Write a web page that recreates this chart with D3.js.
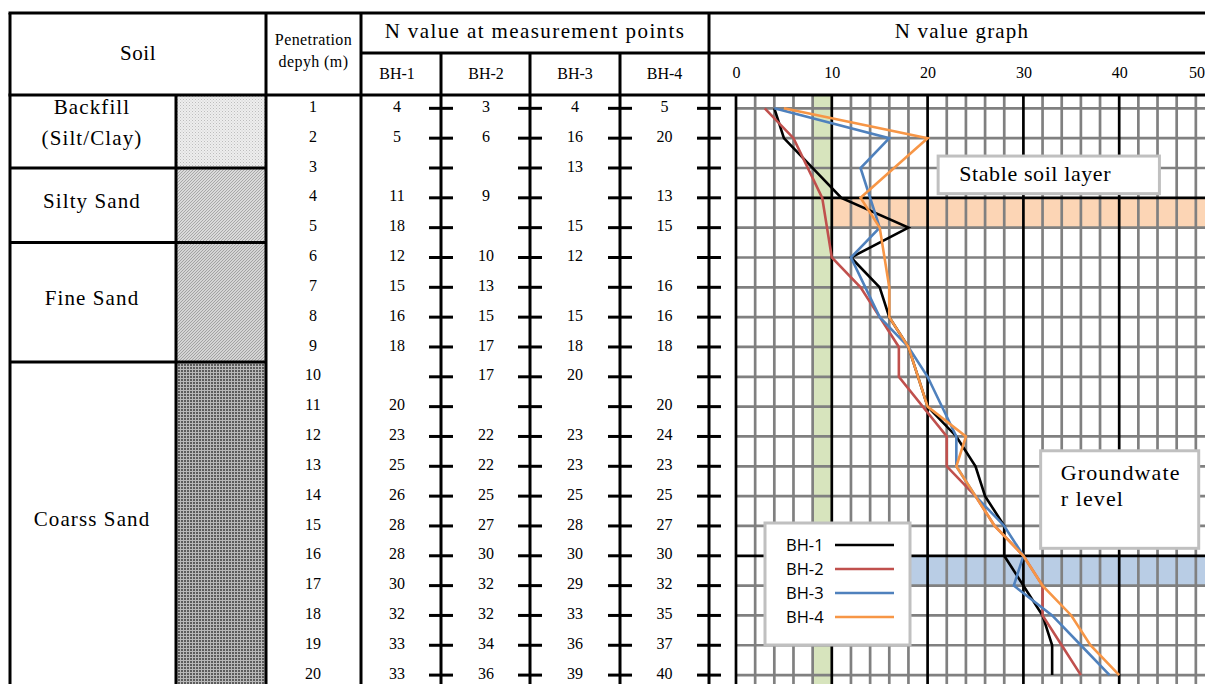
<!DOCTYPE html>
<html>
<head>
<meta charset="utf-8">
<script src="https://cdn.jsdelivr.net/npm/d3@7/dist/d3.min.js"></script>
<style>
  html, body { margin: 0; padding: 0; background: #fff; }
  svg { display: block; }
</style>
</head>
<body>
<svg id="chart" width="1205" height="684"></svg>
<script>
// ---- data ----------------------------------------------------------
const depths = [1, 2, 3, 4, 5, 6, 7, 8, 9, 10, 11, 12, 13, 14, 15, 16, 17, 18, 19, 20];
const boreholes = ["BH-1", "BH-2", "BH-3", "BH-4"];
const bh1 = [4, 5, null, 11, 18, 12, 15, 16, 18, null, 20, 23, 25, 26, 28, 28, 30, 32, 33, 33];
const bh2 = [3, 6, null, 9, null, 10, 13, 15, 17, 17, null, 22, 22, 25, 27, 30, 32, 32, 34, 36];
const bh3 = [4, 16, 13, null, 15, 12, null, 15, 18, 20, null, 23, 23, 25, 28, 30, 29, 33, 36, 39];
const bh4 = [5, 20, null, 13, 15, null, 16, 16, 18, null, 20, 24, 23, 25, 27, 30, 32, 35, 37, 40];
const seriesValues = [bh1, bh2, bh3, bh4];
const seriesColors = ["#000000", "#c0504d", "#4f81bd", "#f79646"];

const soilNames = [["Backfill", "(Silt/Clay)"], ["Silty Sand"], ["Fine Sand"], ["Coarss Sand"]];
const soilTop = [0, 3, 5.5, 9.5];
const soilBottom = [3, 5.5, 9.5, 20.5];
const soilPatterns = ["pat-backfill", "pat-silty", "pat-fine", "pat-coarse"];

const nTicks = [0, 10, 20, 30, 40, 50];
const stableBandN = [10, 50];
const stableBandDepth = [4, 5];
const waterBandN = [5, 50];
const waterBandDepth = [16, 17];
const criticalN = [8, 10];

// ---- layout --------------------------------------------------------
const W = 1205, H = 684;
const tableTop = 13, headMid = 53, headBottom = 95;
const soilLeft = 10, soilDiv = 176, penLeft = 266, bhLeft = 361, graphLeft = 709;
const bhDividers = [441, 530, 620, 709];
const bhCenters = [397, 486, 575, 664.5];
const depthCenter = 313;
const serif = "'Liberation Serif', 'Times New Roman', serif";
const sans = "'Open Sans', 'Noto Sans', sans-serif";

const svg = d3.select("#chart");

const y = d3.scaleLinear().domain([0, 20]).range([78.5, 675.1]);
const x = d3.scaleLinear().domain([0, 50]).range([736, 1215]);

// ---- patterns for soil swatches -------------------------------------
const defs = svg.append("defs");
{
  const p = defs.append("pattern").attr("id", "pat-backfill")
    .attr("patternUnits", "userSpaceOnUse").attr("width", 3).attr("height", 3);
  p.append("rect").attr("width", 3).attr("height", 3).attr("fill", "#eeeeee");
  p.append("rect").attr("width", 1).attr("height", 1).attr("fill", "#bdbdbd");
  p.append("rect").attr("x", 1.5).attr("y", 1.5).attr("width", 1).attr("height", 1).attr("fill", "#cccccc");
}
function diagPattern(id, bg, fg) {
  const p = defs.append("pattern").attr("id", id)
    .attr("patternUnits", "userSpaceOnUse").attr("width", 3).attr("height", 3);
  p.append("rect").attr("width", 3).attr("height", 3).attr("fill", bg);
  p.append("path").attr("d", "M0,3 L3,0 M-1,1 L1,-1 M2,4 L4,2")
    .attr("stroke", fg).attr("stroke-width", 0.9);
}
diagPattern("pat-silty", "#dadada", "#a3a3a3");
diagPattern("pat-fine", "#d4d4d4", "#9c9c9c");
{
  const p = defs.append("pattern").attr("id", "pat-coarse")
    .attr("patternUnits", "userSpaceOnUse").attr("width", 3).attr("height", 3);
  p.append("rect").attr("width", 3).attr("height", 3).attr("fill", "#5c5c5c");
  p.append("rect").attr("x", 0).attr("y", 0).attr("width", 3).attr("height", 1).attr("fill", "#b8b8b8");
  p.append("rect").attr("x", 0).attr("y", 0).attr("width", 1).attr("height", 3).attr("fill", "#b8b8b8");
}

svg.append("rect").attr("width", W).attr("height", H).attr("fill", "#fff");

// ---- soil swatches --------------------------------------------------
svg.append("g").selectAll("rect")
  .data(soilNames.map((n, i) => ({ top: soilTop[i], bottom: soilBottom[i], pat: soilPatterns[i] })))
  .join("rect")
  .attr("x", soilDiv)
  .attr("width", penLeft - soilDiv)
  .attr("y", d => Math.max(headBottom, y(d.top)))
  .attr("height", d => y(d.bottom) - Math.max(headBottom, y(d.top)))
  .attr("fill", d => `url(#${d.pat})`);

// ---- graph bands ----------------------------------------------------
const plot = svg.append("g");
plot.append("rect")
  .attr("x", x(criticalN[0])).attr("width", x(criticalN[1]) - x(criticalN[0]))
  .attr("y", headBottom).attr("height", H - headBottom)
  .attr("fill", "#d7e4bd");
plot.append("rect")
  .attr("x", x(stableBandN[0])).attr("width", x(stableBandN[1]) - x(stableBandN[0]))
  .attr("y", y(stableBandDepth[0])).attr("height", y(stableBandDepth[1]) - y(stableBandDepth[0]))
  .attr("fill", "#fcd5b5");
plot.append("rect")
  .attr("x", x(waterBandN[0])).attr("width", x(waterBandN[1]) - x(waterBandN[0]))
  .attr("y", y(waterBandDepth[0])).attr("height", y(waterBandDepth[1]) - y(waterBandDepth[0]))
  .attr("fill", "#b9cde5");

// ---- grid -----------------------------------------------------------
const minorN = x.ticks(25).filter(v => v % 10 !== 0);
plot.append("g").selectAll("line").data(minorN).join("line")
  .attr("x1", d => x(d)).attr("x2", d => x(d))
  .attr("y1", headBottom).attr("y2", H)
  .attr("stroke", "#808080").attr("stroke-width", 2.7);
plot.append("g").selectAll("line").data(depths.filter(d => d !== 4 && d !== 16)).join("line")
  .attr("x1", x(0)).attr("x2", W)
  .attr("y1", d => y(d)).attr("y2", d => y(d))
  .attr("stroke", "#808080").attr("stroke-width", 2.7);
plot.append("g").selectAll("line").data(nTicks).join("line")
  .attr("x1", d => x(d)).attr("x2", d => x(d))
  .attr("y1", headBottom).attr("y2", H)
  .attr("stroke", "#000").attr("stroke-width", 2.7);
plot.append("g").selectAll("line").data([4, 16]).join("line")
  .attr("x1", x(0)).attr("x2", W)
  .attr("y1", d => y(d)).attr("y2", d => y(d))
  .attr("stroke", "#000").attr("stroke-width", 2.7);

// ---- table rules ----------------------------------------------------
const rules = svg.append("g").attr("stroke", "#000").attr("stroke-width", 3);
const hl = (x1, x2, yy) => rules.append("line").attr("x1", x1).attr("x2", x2).attr("y1", yy).attr("y2", yy);
const vl = (xx, y1, y2) => rules.append("line").attr("x1", xx).attr("x2", xx).attr("y1", y1).attr("y2", y2);
hl(soilLeft - 1.5, W, tableTop);
hl(bhLeft, W, headMid);
hl(soilLeft - 1.5, W, headBottom);
soilTop.slice(1).forEach(t => hl(soilLeft, penLeft, y(t)));
vl(soilLeft, tableTop, H);
vl(soilDiv, headBottom, H);
vl(penLeft, tableTop, H);
vl(bhLeft, tableTop, H);
bhDividers.forEach((d, i) => vl(d, i === bhDividers.length - 1 ? tableTop : headMid, H));

// little row ticks on the borehole dividers
const tickG = svg.append("g").attr("stroke", "#000").attr("stroke-width", 3);
bhDividers.forEach(d => {
  tickG.append("g").selectAll("line").data(depths).join("line")
    .attr("x1", d - 12).attr("x2", d + 12)
    .attr("y1", v => y(v)).attr("y2", v => y(v));
});

// ---- header text ----------------------------------------------------
const txt = svg.append("g").attr("font-family", serif).attr("fill", "#000");
txt.append("text").attr("x", (soilLeft + penLeft) / 2).attr("y", 55)
  .attr("text-anchor", "middle").attr("dominant-baseline", "middle")
  .attr("font-size", 21).attr("letter-spacing", 0.6).text("Soil");
txt.append("text").attr("x", (penLeft + bhLeft) / 2).attr("y", 41)
  .attr("text-anchor", "middle").attr("dominant-baseline", "middle")
  .attr("font-size", 16).attr("letter-spacing", 0.4).text("Penetration");
txt.append("text").attr("x", (penLeft + bhLeft) / 2).attr("y", 63)
  .attr("text-anchor", "middle").attr("dominant-baseline", "middle")
  .attr("font-size", 16).attr("letter-spacing", 0.4).text("depyh (m)");
txt.append("text").attr("x", (bhLeft + graphLeft) / 2).attr("y", 33)
  .attr("text-anchor", "middle").attr("dominant-baseline", "middle")
  .attr("font-size", 21).attr("letter-spacing", 1.4).text("N value at measurement points");
txt.append("text").attr("x", 962).attr("y", 33)
  .attr("text-anchor", "middle").attr("dominant-baseline", "middle")
  .attr("font-size", 21).attr("letter-spacing", 1.2).text("N value graph");
txt.append("g").selectAll("text").data(boreholes).join("text")
  .attr("x", (d, i) => bhCenters[i]).attr("y", 75)
  .attr("text-anchor", "middle").attr("dominant-baseline", "middle")
  .attr("font-size", 16).text(d => d);

// N axis labels in the header row
const axisG = svg.append("g").attr("transform", `translate(0,${72})`)
  .call(d3.axisTop(x).tickValues(nTicks).tickSize(0).tickPadding(0));
axisG.select(".domain").remove();
axisG.selectAll("text")
  .attr("font-family", serif).attr("font-size", 16).attr("fill", "#000")
  .attr("dy", "0.35em");
// the last label sits flush against the right edge of the sheet
axisG.selectAll(".tick").filter(d => x(d) + 8 > W)
  .attr("transform", `translate(${W},0)`)
  .select("text").attr("text-anchor", "end");

// ---- soil labels ----------------------------------------------------
soilNames.forEach((lines, i) => {
  const top = Math.max(headBottom, y(soilTop[i]));
  const bottom = Math.min(y(soilBottom[i]), H);
  const mid = (top + bottom) / 2 - (lines.length > 1 ? 7 : 2);
  lines.forEach((ln, j) => {
    txt.append("text")
      .attr("x", 92)
      .attr("y", mid + (j - (lines.length - 1) / 2) * 31)
      .attr("text-anchor", "middle").attr("dominant-baseline", "middle")
      .attr("font-size", 21).attr("letter-spacing", 1.1).text(ln);
  });
});

// ---- table body values ----------------------------------------------
txt.append("g").selectAll("text").data(depths).join("text")
  .attr("x", depthCenter).attr("y", d => y(d))
  .attr("text-anchor", "middle").attr("dominant-baseline", "middle")
  .attr("font-size", 16).text(d => d);
seriesValues.forEach((vals, i) => {
  txt.append("g").selectAll("text")
    .data(depths.map((d, k) => ({ depth: d, v: vals[k] })).filter(p => p.v !== null))
    .join("text")
    .attr("x", bhCenters[i]).attr("y", p => y(p.depth))
    .attr("text-anchor", "middle").attr("dominant-baseline", "middle")
    .attr("font-size", 16).text(p => p.v);
});

// ---- N value lines --------------------------------------------------
const line = d3.line().x(p => x(p.v)).y(p => y(p.depth));
seriesValues.forEach((vals, i) => {
  svg.append("path")
    .datum(depths.map((d, k) => ({ depth: d, v: vals[k] })).filter(p => p.v !== null))
    .attr("d", line)
    .attr("fill", "none")
    .attr("stroke", seriesColors[i])
    .attr("stroke-width", 2.6)
    .attr("stroke-linejoin", "miter");
});

// ---- annotation boxes -----------------------------------------------
function noteBox(n0, n1, d0, d1) {
  return svg.append("rect")
    .attr("x", x(n0)).attr("width", x(n1) - x(n0))
    .attr("y", y(d0)).attr("height", y(d1) - y(d0))
    .attr("fill", "#fff").attr("stroke", "#c0c0c0").attr("stroke-width", 3);
}
noteBox(21.1, 44.2, 2.6, 3.86);
svg.append("text").attr("x", x(23.3)).attr("y", y(3.26))
  .attr("dominant-baseline", "middle").attr("font-family", serif)
  .attr("font-size", 22).attr("letter-spacing", 0.6).text("Stable soil layer");

noteBox(31.8, 48.3, 12.48, 15.75);
svg.append("text").attr("x", x(33.9)).attr("y", y(13.3))
  .attr("dominant-baseline", "middle").attr("font-family", serif)
  .attr("font-size", 22).attr("letter-spacing", 1.1).text("Groundwate");
svg.append("text").attr("x", x(33.9)).attr("y", y(14.15))
  .attr("dominant-baseline", "middle").attr("font-family", serif)
  .attr("font-size", 22).attr("letter-spacing", 1.1).text("r level");

// ---- legend ---------------------------------------------------------
const legend = svg.append("g").attr("transform", "translate(765,523)");
legend.append("rect").attr("width", 145).attr("height", 122)
  .attr("fill", "#fff").attr("stroke", "#c0c0c0").attr("stroke-width", 3);
const items = legend.selectAll("g.item").data(boreholes).join("g")
  .attr("class", "item")
  .attr("transform", (d, i) => `translate(0,${22 + i * 24})`);
items.append("text").attr("x", 21).attr("y", 2)
  .attr("dominant-baseline", "middle")
  .attr("font-family", sans).attr("font-size", 16.5).text(d => d);
items.append("line").attr("x1", 70).attr("x2", 129)
  .attr("stroke", (d, i) => seriesColors[i]).attr("stroke-width", 2.6);
</script>
</body>
</html>
